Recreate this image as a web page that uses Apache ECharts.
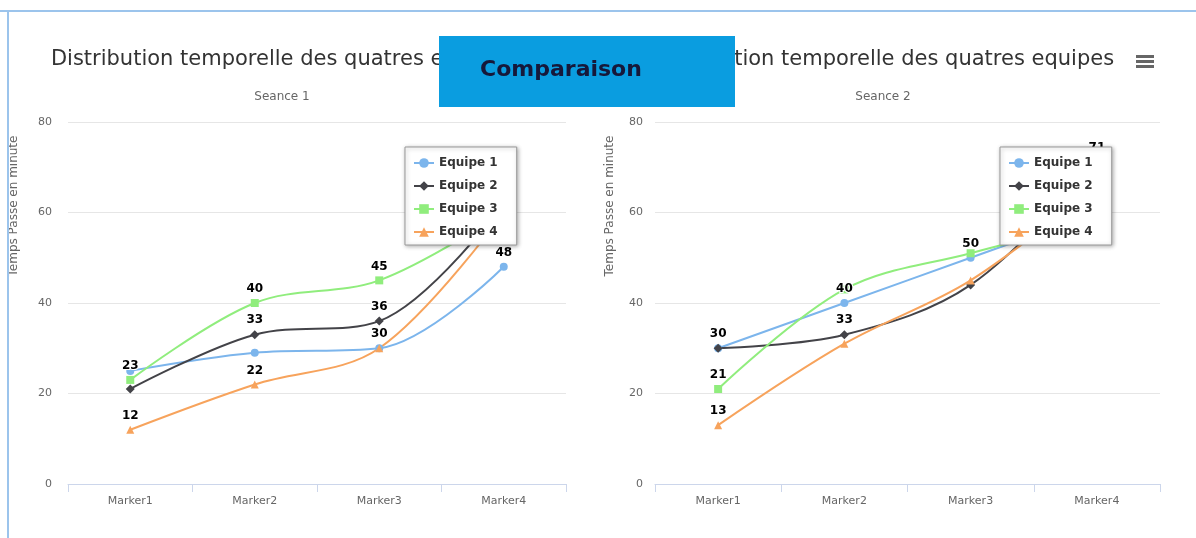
<!DOCTYPE html>
<html>
<head>
<meta charset="utf-8">
<script src="https://cdn.jsdelivr.net/npm/echarts@6/dist/echarts.min.js"></script>
<style>
    html, body { margin: 0; padding: 0; background: #fff; }
    #chart { width: 1196px; height: 538px; }
</style>
</head>
<body>
<div id="chart"></div>
<script>
    // categories / series
    const markers = ['Marker1', 'Marker2', 'Marker3', 'Marker4'];
    const teams = ['Equipe 1', 'Equipe 2', 'Equipe 3', 'Equipe 4'];
    const yTicks = [0, 20, 40, 60, 80];

    // Seance 1
    const s1Equipe1 = [25, 29, 30, 48];
    const s1Equipe2 = [21, 33, 36, 62];
    const s1Equipe3 = [23, 40, 45, 60];
    const s1Equipe4 = [12, 22, 30, 60];
    // Seance 2
    const s2Equipe1 = [30, 40, 50, 60];
    const s2Equipe2 = [30, 33, 44, 71];
    const s2Equipe3 = [21, 43, 51, 58];
    const s2Equipe4 = [13, 31, 45, 66];

    // which data labels are visible (the others were hidden by overlap)
    const s1Shown = [[0, 0, 0, 1], [0, 1, 1, 1], [1, 1, 1, 1], [1, 1, 1, 1]];
    const s2Shown = [[0, 1, 1, 1], [1, 1, 0, 1], [1, 0, 0, 1], [1, 0, 0, 1]];

    const colors = ['#7cb5ec', '#434348', '#90ed7d', '#f7a35c'];
    const symbols = ['circle', 'diamond', 'rect', 'triangle'];

    let chart = echarts.init(document.getElementById('chart'));

    function makeSeries(values, shown, axis) {
        return values.map(function (vals, i) {
            return {
                name: teams[i],
                type: 'line',
                xAxisIndex: axis,
                yAxisIndex: axis,
                smooth: 0.35,
                symbol: symbols[i],
                symbolSize: i == 1 ? 9 : 8,
                color: colors[i],
                lineStyle: { width: 2 },
                z: 2,
                label: {
                    show: true,
                    position: 'top',
                    distance: 4,
                    color: '#000',
                    fontSize: 12,
                    fontWeight: 'bold',
                    fontFamily: 'DejaVu Sans',
                    textBorderColor: '#fff',
                    textBorderWidth: 2
                },
                data: vals.map(function (v, j) {
                    return { value: v, label: { show: shown[i][j] == 1 } };
                })
            };
        });
    }

    function yAxisOf(idx, margin) {
        return {
            type: 'value',
            gridIndex: idx,
            min: yTicks[0],
            max: yTicks[yTicks.length - 1],
            interval: 20,
            axisLine: { show: false },
            axisTick: { show: false },
            axisLabel: { color: '#666', fontSize: 11, margin: margin, fontFamily: 'DejaVu Sans' },
            splitLine: { lineStyle: { color: '#e6e6e6' } }
        };
    }

    function xAxisOf(idx) {
        return {
            type: 'category',
            gridIndex: idx,
            data: markers,
            boundaryGap: true,
            axisLine: { lineStyle: { color: '#ccd6eb' } },
            axisTick: { show: true, length: 8, lineStyle: { color: '#ccd6eb' } },
            axisLabel: { color: '#666', fontSize: 11, margin: 12, fontFamily: 'DejaVu Sans' }
        };
    }

    function legendOf(left) {
        return {
            data: teams,
            orient: 'vertical',
            left: left,
            top: 147,
            z: 20,
            itemWidth: 20,
            itemHeight: 12,
            itemGap: 11,
            padding: [10, 19, 7, 8],
            backgroundColor: '#fff',
            borderColor: '#999',
            borderWidth: 1,
            shadowBlur: 4,
            shadowColor: 'rgba(0,0,0,0.3)',
            shadowOffsetX: 1,
            shadowOffsetY: 1,
            textStyle: { color: '#333', fontSize: 12, fontWeight: 'bold', fontFamily: 'DejaVu Sans' }
        };
    }

    let series1 = makeSeries([s1Equipe1, s1Equipe2, s1Equipe3, s1Equipe4], s1Shown, 0);
    let series2 = makeSeries([s2Equipe1, s2Equipe2, s2Equipe3, s2Equipe4], s2Shown, 1);

    let options = {
        backgroundColor: '#fff',
        animation: false,
        title: [
            {
                text: 'Distribution temporelle des quatres equipes',
                subtext: 'Seance 1',
                left: 277,
                top: 44,
                textAlign: 'center',
                itemGap: 21,
                textStyle: { color: '#333', fontSize: 21, fontWeight: 'normal', fontFamily: 'DejaVu Sans' },
                subtextStyle: { color: '#666', fontSize: 12, fontFamily: 'DejaVu Sans' }
            },
            {
                text: 'Distribution temporelle des quatres equipes',
                subtext: 'Seance 2',
                left: 878,
                top: 44,
                textAlign: 'center',
                itemGap: 21,
                textStyle: { color: '#333', fontSize: 21, fontWeight: 'normal', fontFamily: 'DejaVu Sans' },
                subtextStyle: { color: '#666', fontSize: 12, fontFamily: 'DejaVu Sans' }
            }
        ],
        legend: [legendOf(405), legendOf(1000)],
        grid: [
            { left: 68, right: 630, top: 122, bottom: 54 },
            { left: 655, right: 36, top: 122, bottom: 54 }
        ],
        xAxis: [xAxisOf(0), xAxisOf(1)],
        yAxis: [yAxisOf(0, 16), yAxisOf(1, 12)],
        series: series1.concat(series2),
        graphic: [
            // frame
            { type: 'rect', shape: { x: 0, y: 10, width: 1196, height: 2 }, style: { fill: '#9cc4ec' }, z: 100 },
            { type: 'rect', shape: { x: 7, y: 10, width: 2, height: 528 }, style: { fill: '#9cc4ec' }, z: 100 },
            // y axis titles
            {
                type: 'text', x: 14, y: 206, rotation: Math.PI / 2, z: 50,
                style: { text: 'Temps Passe en minute', fill: '#666', fontSize: 12, fontFamily: 'DejaVu Sans', align: 'center', verticalAlign: 'middle' }
            },
            {
                type: 'text', x: 610, y: 206, rotation: Math.PI / 2, z: 50,
                style: { text: 'Temps Passe en minute', fill: '#666', fontSize: 12, fontFamily: 'DejaVu Sans', align: 'center', verticalAlign: 'middle' }
            },
            // menu icon
            { type: 'rect', shape: { x: 1136, y: 55, width: 18, height: 3 }, style: { fill: '#666' }, z: 50 },
            { type: 'rect', shape: { x: 1136, y: 60, width: 18, height: 3 }, style: { fill: '#666' }, z: 50 },
            { type: 'rect', shape: { x: 1136, y: 65, width: 18, height: 3 }, style: { fill: '#666' }, z: 50 },
            // Comparaison banner
            { type: 'rect', shape: { x: 439, y: 36, width: 296, height: 71 }, style: { fill: '#0a9de0' }, z: 200 },
            {
                type: 'text', x: 480, y: 70, z: 201,
                style: { text: 'Comparaison', fill: '#16183a', fontSize: 22, fontWeight: 'bold', fontFamily: 'DejaVu Sans', align: 'left', verticalAlign: 'middle' }
            }
        ]
    };
    chart.setOption(options);
</script>
</body>
</html>
